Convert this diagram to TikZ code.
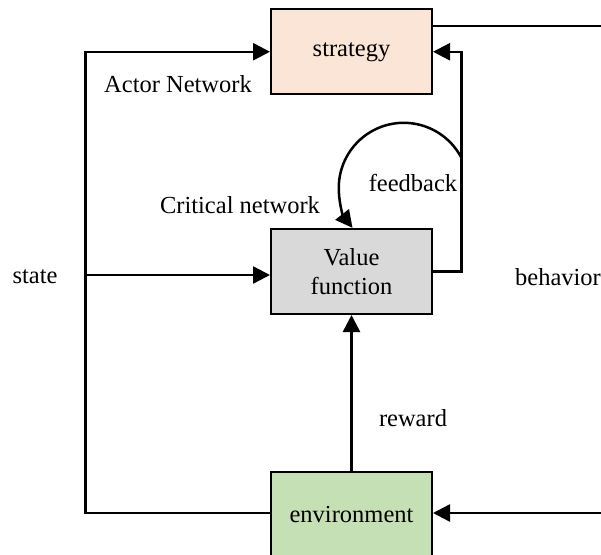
\documentclass[tikz,border=0pt]{standalone}
\usepackage{fontspec}
\setmainfont{Liberation Serif}
\usetikzlibrary{arrows.meta}

\definecolor{stratfill}{HTML}{FBE5D6}
\definecolor{valuefill}{HTML}{D9D9D9}
\definecolor{envfill}{HTML}{C5E0B4}

\tikzset{
  blockbox/.style={draw=black, line width=2pt, minimum width=161pt,
    minimum height=85pt, inner sep=0pt, align=center,
    font=\fontsize{24.5}{29}\selectfont},
  flow/.style={line width=2.5pt, draw=black},
  arr/.style={flow, -{Triangle[length=17pt,width=17pt]}},
  lbl/.style={font=\fontsize{24.5}{29}\selectfont, inner sep=0pt, anchor=base}
}

\begin{document}
\begin{tikzpicture}[x=1pt, y=1pt]
  \useasboundingbox (0,0) rectangle (601,-554);

  % blocks
  \node[blockbox, fill=stratfill] (strat) at (351.5,-51.75) {strategy};
  \node[blockbox, fill=valuefill] (value) at (351.5,-271.5) {Value\\function};
  \node[blockbox, fill=envfill]   (env)   at (351.5,-514.5) {environment};

  % helper points for the loops
  \coordinate (rtop)     at (601,-26);
  \coordinate (rbot)     at (601,-513);
  \coordinate (lbot)     at (85.5,-513);
  \coordinate (ltop)     at (85.5,-51.75);
  \coordinate (sj)       at (85.5,-275);
  \coordinate (fbx)      at (461.5,-160);
  \coordinate (arcstart) at (461.5,-158);

  % behaviour out of the strategy and into the environment
  \draw[flow] (strat.east |- rtop) -- (rtop);
  \draw[arr] (rbot) -- (env.east |- rbot);

  % state loop back to the actor
  \draw[arr] (env.west |- lbot) -- (lbot) -- (ltop) -- (strat.west);
  \draw[arr] (sj) -- (value.west |- sj);

  % critic output up to the strategy
  \draw[arr] (value.east) -| (fbx) |- (strat.east);

  % feedback loop onto the value function
  \draw[arr] (arcstart) arc[start angle=27.3, end angle=218, radius=65];

  % reward
  \draw[arr] (env.north) -- (value.south);

  % labels
  \node[lbl] (actor)  at (178,-92)  {Actor Network};
  \node[lbl] (critic) at (240,-213) {Critical network};
  \node[lbl] (feed)   at (413,-191.5) {feedback};
  \node[lbl] (state)  at (35,-283)  {state};
  \node[lbl] (behav)  at (558,-285) {behavior};
  \node[lbl] (reward) at (413,-426) {reward};
\end{tikzpicture}
\end{document}
